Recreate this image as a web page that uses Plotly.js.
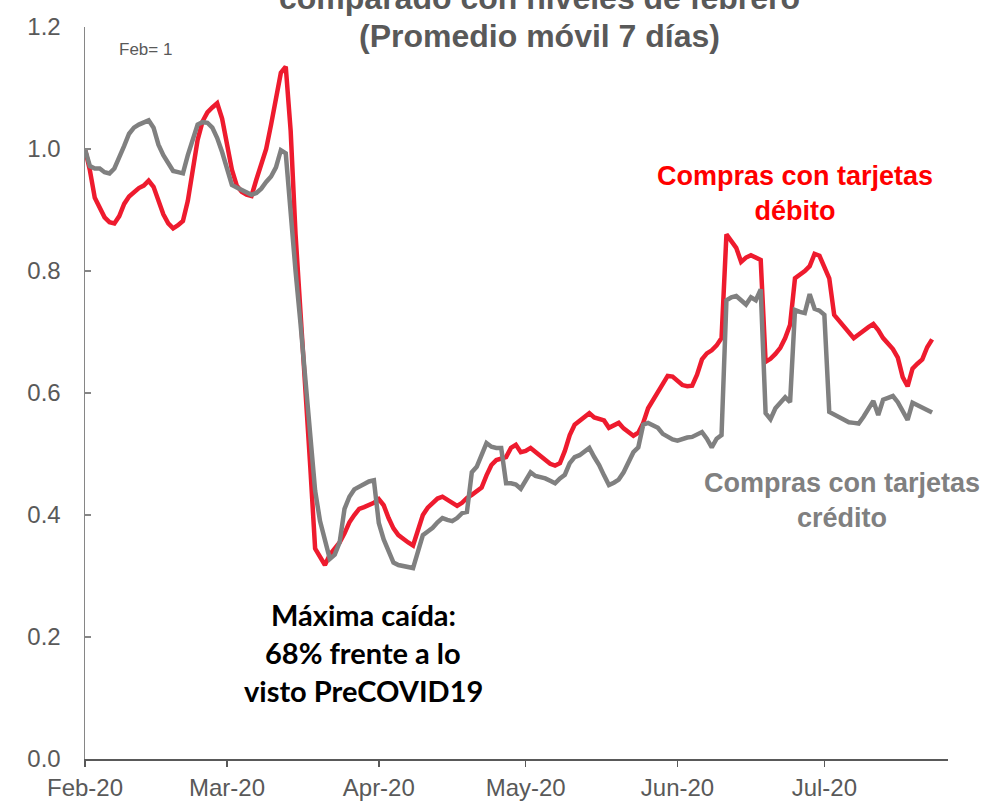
<!DOCTYPE html>
<html>
<head>
<meta charset="utf-8">
<script src="https://cdn.plot.ly/plotly-3.0.1.min.js"></script>
<style>
  html, body { margin: 0; padding: 0; background: #ffffff; }
  #chart { width: 989px; height: 801px; }
</style>
</head>
<body>
<div id="chart"></div>
<script>
// ---- Data (7-day moving average, Feb = 1) ----
const startDate = '2020-02-01';

const debitoFeb = [1.000,0.965,0.920,0.903,0.888,0.880,0.878,0.890,0.910,0.922,
                   0.930,0.936,0.940,0.948,0.938,0.915,0.893,0.878,0.870,0.875,
                   0.882,0.915,0.965,1.015,1.045,1.060,1.068,1.075,1.050];
const debitoMar = [1.010,0.966,0.940,0.930,0.925,0.923,0.950,0.975,1.000,1.040,
                   1.085,1.125,1.135,1.030,0.860,0.740,0.615,0.480,0.345,0.332,
                   0.318,0.335,0.345,0.355,0.370,0.388,0.400,0.410,0.413,0.416,
                   0.420];
const debitoApr = [0.426,0.416,0.395,0.378,0.367,0.360,0.355,0.350,0.375,0.400,
                   0.412,0.420,0.427,0.430,0.425,0.419,0.415,0.420,0.428,0.433,
                   0.438,0.445,0.465,0.482,0.490,0.493,0.495,0.510,0.515,0.503];
const debitoMay = [0.505,0.510,0.503,0.497,0.490,0.484,0.481,0.485,0.505,0.531,
                   0.548,0.555,0.562,0.567,0.560,0.557,0.555,0.543,0.547,0.551,
                   0.542,0.536,0.530,0.535,0.551,0.575,0.588,0.600,0.615,0.628,
                   0.627];
const debitoJun = [0.620,0.613,0.611,0.612,0.630,0.655,0.665,0.670,0.678,0.690,
                   0.860,0.850,0.838,0.815,0.822,0.826,0.822,0.818,0.651,0.656,
                   0.664,0.674,0.690,0.712,0.788,0.793,0.800,0.808,0.828,0.825];
const debitoJul = [0.808,0.788,0.728,0.718,0.710,0.700,0.690,0.696,0.703,0.708,
                   0.713,0.703,0.690,0.680,0.672,0.658,0.626,0.611,0.640,0.648,
                   0.655,0.675,0.688];

const creditoFeb = [1.000,0.972,0.968,0.968,0.962,0.960,0.968,0.985,1.005,1.025,
                    1.035,1.040,1.043,1.047,1.035,1.007,0.990,0.978,0.964,0.962,
                    0.960,0.990,1.018,1.040,1.044,1.043,1.035,1.018,0.995];
const creditoMar = [0.966,0.941,0.937,0.933,0.928,0.925,0.928,0.935,0.946,0.955,
                    0.970,0.998,0.993,0.890,0.800,0.715,0.620,0.520,0.440,0.390,
                    0.355,0.328,0.335,0.355,0.410,0.430,0.442,0.447,0.452,0.455,
                    0.457];
const creditoApr = [0.387,0.360,0.340,0.322,0.318,0.316,0.315,0.313,0.340,0.367,
                    0.373,0.379,0.388,0.395,0.392,0.390,0.395,0.403,0.405,0.470,
                    0.479,0.500,0.518,0.512,0.510,0.510,0.452,0.452,0.450,0.443];
const creditoMay = [0.458,0.470,0.464,0.462,0.460,0.456,0.452,0.460,0.466,0.485,
                    0.495,0.498,0.505,0.510,0.495,0.482,0.465,0.449,0.453,0.458,
                    0.470,0.485,0.503,0.511,0.548,0.551,0.547,0.543,0.533,0.528,
                    0.524];
const creditoJun = [0.522,0.525,0.527,0.528,0.533,0.536,0.525,0.511,0.525,0.531,
                    0.752,0.757,0.759,0.752,0.745,0.757,0.752,0.770,0.567,0.557,
                    0.575,0.584,0.593,0.585,0.736,0.733,0.731,0.762,0.738,0.735];
const creditoJul = [0.728,0.569,0.565,0.561,0.557,0.552,0.551,0.550,0.561,0.573,
                    0.587,0.564,0.589,0.592,0.595,0.585,0.570,0.556,0.584,0.580,
                    0.575,0.570,0.568];

const monthTicks  = ['2020-02-01','2020-03-01','2020-04-01','2020-05-01','2020-06-01','2020-07-01'];
const monthLabels = ['Feb-20','Mar-20','Apr-20','May-20','Jun-20','Jul-20'];
const yTicks = [0.0, 0.2, 0.4, 0.6, 0.8, 1.0, 1.2];
const yTickLabels = ['0.0','0.2','0.4','0.6','0.8','1.0','1.2'];

// ---- Build series ----
const debito  = [].concat(debitoFeb, debitoMar, debitoApr, debitoMay, debitoJun, debitoJul);
const credito = [].concat(creditoFeb, creditoMar, creditoApr, creditoMay, creditoJun, creditoJul);

function dayList(start, n) {
  const out = [];
  const d0 = new Date(start + 'T00:00:00Z');
  for (let i = 0; i < n; i++) {
    const d = new Date(d0.getTime() + i * 86400000);
    out.push(d.toISOString().slice(0, 10));
  }
  return out;
}
const dates = dayList(startDate, debito.length);

const RED = '#EE1B2E';
const GRAY = '#808080';
const TXT = '#595959';
const ARIAL = 'Arial, "Liberation Sans", sans-serif';
const CAL = 'Lato, "Open Sans", sans-serif';

const traces = [
  { x: dates, y: debito, type: 'scatter', mode: 'lines', name: 'Compras con tarjetas débito',
    line: { color: RED, width: 4.5 }, hoverinfo: 'skip' },
  { x: dates, y: credito, type: 'scatter', mode: 'lines', name: 'Compras con tarjetas crédito',
    line: { color: GRAY, width: 4.5 }, hoverinfo: 'skip' }
];

// pixel helpers for annotation placement (plot area 85..948 x 27..759)
const PL = 85, PR = 948, PT = 27, PB = 759;
const px = x => (x - PL) / (PR - PL);
const py = y => (PB - y) / (PB - PT);

const layout = {
  width: 989, height: 801,
  margin: { l: PL, r: 989 - PR, t: PT, b: 801 - PB, pad: 0 },
  paper_bgcolor: '#ffffff', plot_bgcolor: '#ffffff',
  showlegend: false,
  font: { family: ARIAL, color: TXT },
  xaxis: {
    type: 'date',
    range: ['2020-02-01', '2020-07-26 06:00'],
    tickmode: 'array', tickvals: monthTicks, ticktext: monthLabels,
    ticks: 'outside', ticklen: 6, tickwidth: 1.5, tickcolor: '#595959',
    showline: true, linecolor: '#595959', linewidth: 2,
    showgrid: false, zeroline: false,
    tickfont: { family: ARIAL, size: 24, color: TXT },
    ticklabelstandoff: 0
  },
  yaxis: {
    range: [0, 1.2],
    tickmode: 'array', tickvals: yTicks, ticktext: yTickLabels,
    ticks: 'inside', ticklen: 6, tickwidth: 1.5, tickcolor: '#868686',
    showline: true, linecolor: '#868686', linewidth: 1.5,
    showgrid: false, zeroline: false,
    tickfont: { family: ARIAL, size: 24, color: TXT },
    ticklabelstandoff: 18
  },
  annotations: [
    { xref: 'paper', yref: 'paper', x: px(539), y: py(-2), xanchor: 'center', yanchor: 'middle',
      text: '<b>comparado con niveles de febrero</b>', showarrow: false,
      font: { family: ARIAL, size: 32, color: TXT } },
    { xref: 'paper', yref: 'paper', x: px(539), y: py(36), xanchor: 'center', yanchor: 'middle',
      text: '<b>(Promedio móvil 7 días)</b>', showarrow: false,
      font: { family: ARIAL, size: 32, color: TXT } },
    { xref: 'paper', yref: 'paper', x: px(145), y: py(50), xanchor: 'center', yanchor: 'middle',
      text: 'Feb= 1', showarrow: false,
      font: { family: ARIAL, size: 17, color: TXT } },
    { xref: 'paper', yref: 'paper', x: px(795), y: py(194), xanchor: 'center', yanchor: 'middle',
      text: '<b>Compras con tarjetas<br>débito</b>', showarrow: false, align: 'center',
      font: { family: ARIAL, size: 27, color: '#FF0000' } },
    { xref: 'paper', yref: 'paper', x: px(842), y: py(500), xanchor: 'center', yanchor: 'middle',
      text: '<b>Compras con tarjetas<br>crédito</b>', showarrow: false, align: 'center',
      font: { family: ARIAL, size: 27, color: GRAY } },
    { xref: 'paper', yref: 'paper', x: px(363), y: py(614), xanchor: 'center', yanchor: 'middle',
      text: '<b>Máxima caída:</b>', showarrow: false,
      font: { family: CAL, size: 29, color: '#000000' } },
    { xref: 'paper', yref: 'paper', x: px(363), y: py(652), xanchor: 'center', yanchor: 'middle',
      text: '<b>68% frente a lo</b>', showarrow: false,
      font: { family: CAL, size: 29, color: '#000000' } },
    { xref: 'paper', yref: 'paper', x: px(363), y: py(690), xanchor: 'center', yanchor: 'middle',
      text: '<b>visto PreCOVID19</b>', showarrow: false,
      font: { family: CAL, size: 29, color: '#000000' } }
  ]
};

Plotly.newPlot('chart', traces, layout, { displayModeBar: false, staticPlot: true });
</script>
</body>
</html>
